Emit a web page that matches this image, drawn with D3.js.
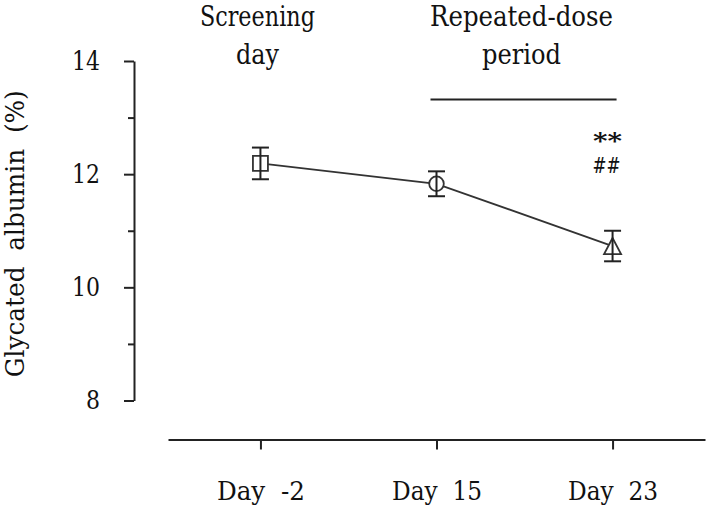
<!DOCTYPE html>
<html>
<head>
<meta charset="utf-8">
<script src="https://cdn.jsdelivr.net/npm/d3@7/dist/d3.min.js"></script>
<style>
  html, body { margin: 0; padding: 0; background: #fff; }
  svg { display: block; }
  svg text { font-family: "DejaVu Serif", serif; fill: #111; white-space: pre; }
</style>
</head>
<body>
<svg id="chart" width="708" height="513"></svg>
<script>
// ---- data ----
const categories = ["Day  -2", "Day  15", "Day  23"];
const means = [12.19, 11.83, 10.73];
const errors = [0.28, 0.22, 0.27];
const markers = ["square", "circle", "triangle"];
const yMajorTicks = [8, 10, 12, 14];
const yMinorTicks = [9, 11, 13];
const yLabel = "Glycated  albumin  (%)";
const periodLabels = [["Screening", "day"], ["Repeated-dose", "period"]];
const sigLabels = ["**", "##"];

// ---- layout ----
const svg = d3.select("#chart");
const axisX = 134;
const axisY = 439.5;

const x = d3.scalePoint().domain(categories).range([168, 705]).padding(0.525);
const y = d3.scaleLinear().domain([8, 14]).range([400.5, 61]);

// Y axis (major)
svg.append("g").attr("transform", `translate(${axisX},0)`)
  .call(d3.axisLeft(y).tickValues(yMajorTicks).tickSize(10).tickSizeOuter(0).tickPadding(24).tickFormat(d3.format("d")))
  .call(g => g.selectAll(".tick text")
    .attr("textLength", d => String(d).length * 14)
    .attr("lengthAdjust", "spacingAndGlyphs"));
// Y axis minor ticks
svg.append("g").attr("transform", `translate(${axisX},0)`)
  .call(d3.axisLeft(y).tickValues(yMinorTicks).tickSize(6).tickSizeOuter(0).tickFormat(""))
  .call(g => g.select(".domain").remove());

// X axis
svg.append("g").attr("transform", `translate(0,${axisY})`)
  .call(d3.axisBottom(x).tickSize(10).tickSizeOuter(0).tickPadding(32))
  .call(g => g.selectAll(".tick text")
    .attr("textLength", (d, i) => i === 0 ? 88 : 90)
    .attr("lengthAdjust", "spacingAndGlyphs"));

svg.selectAll("g").attr("font-family", null).attr("font-size", null);
svg.selectAll(".domain, .tick line").attr("stroke", "#222").attr("stroke-width", 2);
svg.selectAll(".tick text").attr("font-size", 26).attr("fill", "#111");

// Y label
svg.append("text")
  .attr("transform", `translate(24,${(y(14) + y(8)) / 2 + 3}) rotate(-90)`)
  .attr("text-anchor", "middle")
  .attr("font-size", 26)
  .attr("textLength", 287)
  .attr("lengthAdjust", "spacingAndGlyphs")
  .text(yLabel);

// Connecting line
const pts = categories.map((c, i) => ({ c, v: means[i], e: errors[i], m: markers[i] }));
svg.append("path")
  .datum(pts)
  .attr("fill", "none")
  .attr("stroke", "#333")
  .attr("stroke-width", 1.8)
  .attr("d", d3.line().x(d => x(d.c)).y(d => y(d.v)));

// Markers
function markerPath(d) {
  const cx = x(d.c), cy = y(d.v);
  const p = d3.path();
  if (d.m === "square") {
    p.rect(cx - 7.5, cy - 7.5, 15, 15);
  } else if (d.m === "circle") {
    p.arc(cx, cy, 7.3, 0, 2 * Math.PI);
    p.closePath();
  } else {
    p.moveTo(cx, cy - 8);
    p.lineTo(cx + 8.5, cy + 8);
    p.lineTo(cx - 8.5, cy + 8);
    p.closePath();
  }
  return p.toString();
}
svg.selectAll(".marker").data(pts).join("path")
  .attr("class", "marker")
  .attr("d", markerPath)
  .attr("fill", "#fff")
  .attr("stroke", "#333")
  .attr("stroke-width", 1.8);

// Error bars
const eb = svg.selectAll(".eb").data(pts).join("g").attr("class", "eb")
  .attr("stroke", "#222").attr("stroke-width", 2);
eb.append("line")
  .attr("x1", d => x(d.c)).attr("x2", d => x(d.c))
  .attr("y1", d => y(d.v + d.e)).attr("y2", d => y(d.v - d.e));
eb.append("line")
  .attr("x1", d => x(d.c) - 8.5).attr("x2", d => x(d.c) + 8.5)
  .attr("y1", d => y(d.v + d.e)).attr("y2", d => y(d.v + d.e));
eb.append("line")
  .attr("x1", d => x(d.c) - 8.5).attr("x2", d => x(d.c) + 8.5)
  .attr("y1", d => y(d.v - d.e)).attr("y2", d => y(d.v - d.e));

// Period labels
const labelCenters = [x(categories[0]) - 3, (x(categories[1]) + x(categories[2])) / 2 - 3];
const labelWidths = [[115, 43], [183, 79]];
periodLabels.forEach((lines, i) => {
  lines.forEach((t, j) => {
    svg.append("text")
      .attr("x", labelCenters[i])
      .attr("y", 26 + j * 38)
      .attr("text-anchor", "middle")
      .attr("font-size", 27)
      .attr("textLength", labelWidths[i][j])
      .attr("lengthAdjust", "spacingAndGlyphs")
      .text(t);
  });
});

// Repeated-dose bracket line
svg.append("line")
  .attr("x1", x(categories[1]) - 6).attr("x2", x(categories[2]) + 4)
  .attr("y1", 99.5).attr("y2", 99.5)
  .attr("stroke", "#222").attr("stroke-width", 2);

// Significance marks
svg.append("text")
  .attr("x", x(categories[2]) - 5).attr("y", 148)
  .attr("text-anchor", "middle")
  .attr("font-size", 22).attr("font-weight", "bold")
  .attr("textLength", 29).attr("lengthAdjust", "spacingAndGlyphs")
  .text(sigLabels[0]);
svg.append("text")
  .attr("x", x(categories[2]) - 6).attr("y", 173)
  .attr("text-anchor", "middle")
  .attr("font-size", 22)
  .attr("textLength", 28).attr("lengthAdjust", "spacingAndGlyphs")
  .text(sigLabels[1]);
</script>
</body>
</html>
